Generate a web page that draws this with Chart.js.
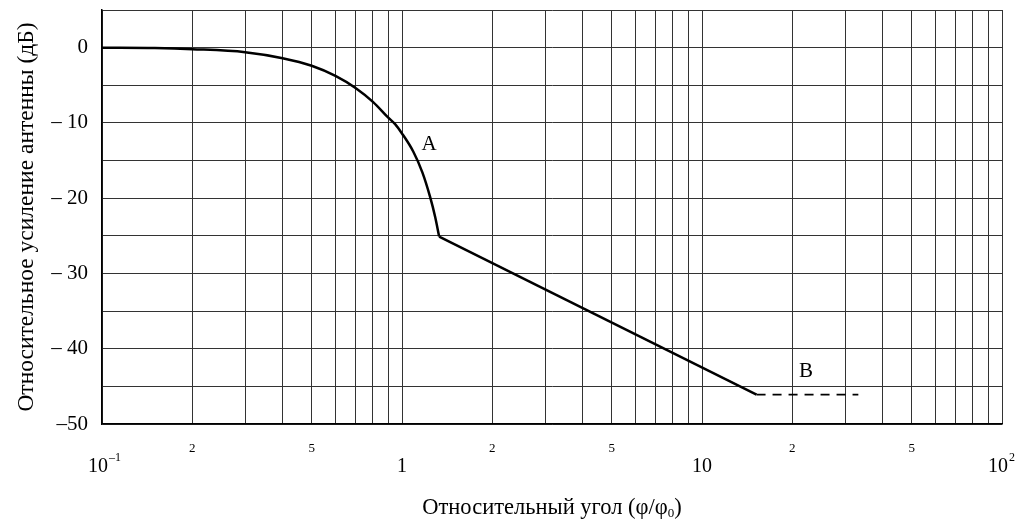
<!DOCTYPE html>
<html lang="ru">
<head>
  <meta charset="UTF-8">
  <title>Относительное усиление антенны</title>
  <script src="https://cdn.jsdelivr.net/npm/chart.js"></script>
  <style>
    body {
      margin: 0;
      padding: 0;
      background: #fff;
    }
    .chart-box {
      width: 1015px;
      height: 526px;
    }
  </style>
</head>
<body>

  <div class="chart-box">
    <canvas id="gainChart"></canvas>
  </div>

  <script>
    // Curve A (main lobe)
    const curveAngle = [0.1, 0.15, 0.2, 0.3, 0.4, 0.5, 0.6, 0.7, 0.8, 0.9, 0.95, 1.0, 1.09, 1.17, 1.24, 1.29, 1.33];
    const curveGain  = [0, -0.05, -0.2, -0.6, -1.4, -2.4, -3.75, -5.35, -7.2, -9.3, -10.2, -11.4, -13.8, -16.6, -19.8, -22.5, -25.1];

    // straight sidelobe part
    const slopeAngle = [1.33, 15.2];
    const slopeGain  = [-25.1, -46.1];

    // B: dashed floor
    const floorAngle = [15.2, 33.2];
    const floorGain  = [-46.1, -46.1];

    // axes
    const xDecades = [0.1, 1, 10];
    const xMantissas = [1, 2, 3, 4, 5, 6, 7, 8, 9];
    const xMinorLabels = [2, 5];
    const decadeValues = [0.1, 1, 10, 100];
    const decadeBase   = ['10', '1', '10', '10'];
    const decadeExp    = ['–1', '', '', '2'];
    const yGridValues = [-50, -45, -40, -35, -30, -25, -20, -15, -10, -5, 0, 5];
    const yLabelValues = [0, -10, -20, -30, -40, -50];
    const yLabelTexts  = ['0', '– 10', '– 20', '– 30', '– 40', '–50'];

    const curveNames = ['A', 'B'];
    const curveNameAngle = [1.23, 22.2];
    const curveNameGain  = [-12.9, -43.0];

    const xTitle = 'Относительный угол (φ/φ';
    const xTitleSub = '0';
    const yTitle = 'Относительное усиление антенны (дБ)';

    const xGridValues = [];
    xDecades.forEach(d => xMantissas.forEach(m => xGridValues.push(+(d * m).toPrecision(3))));
    xGridValues.push(100);

    const toPoints = (xs, ys) => xs.map((x, i) => ({ x: x, y: ys[i] }));

    const FONT = "'Liberation Serif', 'Times New Roman', serif";
    Chart.defaults.font.family = FONT;
    Chart.defaults.color = '#000';

    const textPlugin = {
      id: 'textPlugin',
      afterDraw(chart) {
        const ctx = chart.ctx;
        const xs = chart.scales.x;
        const ys = chart.scales.y;
        const area = chart.chartArea;
        ctx.save();
        ctx.fillStyle = '#000';

        // decade labels with superscripts
        decadeValues.forEach((v, i) => {
          const px = xs.getPixelForValue(v);
          ctx.font = '20px ' + FONT;
          ctx.textAlign = 'center';
          ctx.textBaseline = 'middle';
          let cx = px;
          if (decadeExp[i]) cx = px - 4;
          ctx.fillText(decadeBase[i], cx, 467);
          if (decadeExp[i]) {
            const w = ctx.measureText(decadeBase[i]).width;
            ctx.font = '12px ' + FONT;
            ctx.textAlign = 'left';
            ctx.fillText(decadeExp[i], cx + w / 2 + 1, 458);
          }
        });

        // curve names
        ctx.font = '21px ' + FONT;
        ctx.textAlign = 'center';
        ctx.textBaseline = 'middle';
        curveNames.forEach((t, i) => {
          ctx.fillText(t, xs.getPixelForValue(curveNameAngle[i]), ys.getPixelForValue(curveNameGain[i]));
        });

        // x title with subscript
        ctx.font = '22.5px ' + FONT;
        ctx.textBaseline = 'alphabetic';
        ctx.textAlign = 'left';
        const mainW = ctx.measureText(xTitle).width;
        ctx.font = '13px ' + FONT;
        const subW = ctx.measureText(xTitleSub).width;
        ctx.font = '22.5px ' + FONT;
        const closeW = ctx.measureText(')').width;
        let tx = (area.left + area.right) / 2 - (mainW + subW + closeW) / 2;
        ctx.fillText(xTitle, tx, 514);
        tx += mainW;
        ctx.font = '13px ' + FONT;
        ctx.fillText(xTitleSub, tx, 517);
        tx += subW;
        ctx.font = '22.5px ' + FONT;
        ctx.fillText(')', tx, 514);

        // y title
        ctx.translate(27, (area.top + area.bottom) / 2);
        ctx.rotate(-Math.PI / 2);
        ctx.font = '23.5px ' + FONT;
        ctx.textAlign = 'center';
        ctx.textBaseline = 'middle';
        ctx.fillText(yTitle, 0, 0);
        ctx.restore();
      }
    };

    const chart = new Chart(document.getElementById('gainChart'), {
      type: 'line',
      data: {
        datasets: [
          {
            label: 'A',
            data: toPoints(curveAngle, curveGain),
            borderColor: '#000',
            borderWidth: 2.5,
            pointRadius: 0,
            cubicInterpolationMode: 'monotone'
          },
          {
            label: 'slope',
            data: toPoints(slopeAngle, slopeGain),
            borderColor: '#000',
            borderWidth: 2.5,
            pointRadius: 0
          },
          {
            label: 'B',
            data: toPoints(floorAngle, floorGain),
            borderColor: '#000',
            borderWidth: 1.8,
            borderDash: [9, 7],
            pointRadius: 0
          }
        ]
      },
      options: {
        responsive: true,
        maintainAspectRatio: false,
        animation: false,
        layout: { padding: { top: 10, right: 13, left: 0, bottom: 0 } },
        plugins: {
          legend: { display: false },
          tooltip: { enabled: false }
        },
        scales: {
          x: {
            type: 'logarithmic',
            min: 0.1,
            max: 100,
            afterBuildTicks: s => { s.ticks = xGridValues.map(v => ({ value: v })); },
            afterFit: s => { s.height = 102; s.paddingLeft = 0; s.paddingRight = 0; },
            grid: { color: '#333', lineWidth: 1, drawTicks: false },
            border: { color: '#000', width: 1.5 },
            ticks: {
              autoSkip: false,
              maxRotation: 0,
              padding: 17,
              font: { size: 13 },
              callback: v => {
                const m = Math.round(v / Math.pow(10, Math.floor(Math.log10(v) + 1e-9)));
                return xMinorLabels.includes(m) ? String(m) : '';
              }
            }
          },
          y: {
            min: -50,
            max: 5,
            afterBuildTicks: s => { s.ticks = yGridValues.map(v => ({ value: v })); },
            afterFit: s => { s.width = 102; s.paddingTop = 0; s.paddingBottom = 0; },
            grid: { color: '#333', lineWidth: 1, drawTicks: false },
            border: { color: '#000', width: 1.5 },
            ticks: {
              padding: 14,
              font: { size: 21 },
              callback: v => {
                const i = yLabelValues.indexOf(v);
                return i >= 0 ? yLabelTexts[i] : '';
              }
            }
          }
        }
      },
      plugins: [textPlugin]
    });
  </script>
</body>
</html>
